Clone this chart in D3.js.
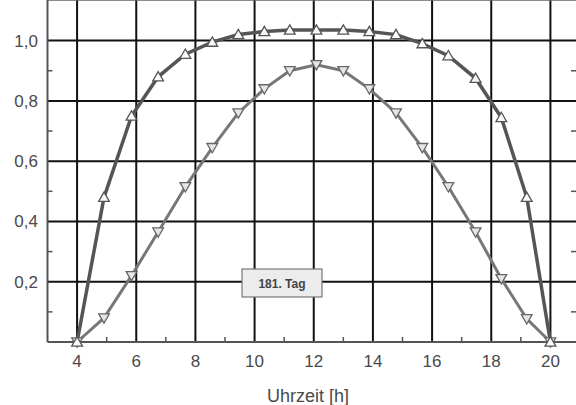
<!DOCTYPE html>
<html>
<head>
<meta charset="utf-8">
<script src="https://cdn.jsdelivr.net/npm/d3@7"></script>
<style>
  body { margin: 0; background: #fff; }
  svg { display: block; }
  text { font-family: "Liberation Sans", Arial, sans-serif; }
</style>
</head>
<body>
<svg width="576" height="405"></svg>
<script>
// Stunden (Uhrzeit) der Messpunkte
var hours = [4, 4.91, 5.84, 6.74, 7.66, 8.57, 9.45, 10.33, 11.19, 12.09,
             13.0, 13.88, 14.78, 15.67, 16.55, 17.47, 18.34, 19.2, 20];
// obere Kurve (Dreieck nach oben)
var upper = [0, 0.48, 0.75, 0.88, 0.955, 0.995, 1.02, 1.03, 1.035, 1.035,
             1.035, 1.03, 1.02, 0.99, 0.95, 0.875, 0.745, 0.48, 0];
// untere Kurve (Dreieck nach unten)
var lower = [0, 0.08, 0.22, 0.365, 0.515, 0.645, 0.76, 0.84, 0.9, 0.92,
             0.9, 0.84, 0.76, 0.645, 0.515, 0.365, 0.21, 0.077, 0];

var xMajor = [4, 6, 8, 10, 12, 14, 16, 18, 20];
var xMinor = [5, 7, 9, 11, 13, 15, 17, 19];
var yMajor = [0.2, 0.4, 0.6, 0.8, 1.0];
var yMinor = [0.1, 0.3, 0.5, 0.7, 0.9];
var yLabels = ["0,2", "0,4", "0,6", "0,8", "1,0"];
var note = "181. Tag";
var xTitle = "Uhrzeit [h]";

var svg = d3.select("svg");

var x = d3.scaleLinear().domain([3, 21]).range([47.5, 580]);
var y = d3.scaleLinear().domain([0, 1.09]).range([342, 13.5]);

var left = x(3), right = x(21), top = y(1.09), bottom = y(0);

// Gitter
svg.append("g").selectAll("line")
  .data(xMajor).enter().append("line")
  .attr("x1", function(d){ return x(d); })
  .attr("x2", function(d){ return x(d); })
  .attr("y1", top).attr("y2", bottom)
  .style("stroke", "#111").style("stroke-width", 2);

svg.append("g").selectAll("line")
  .data(yMajor).enter().append("line")
  .attr("x1", left).attr("x2", right)
  .attr("y1", function(d){ return y(d); })
  .attr("y2", function(d){ return y(d); })
  .style("stroke", "#111").style("stroke-width", 2);

// Rahmen
svg.append("line").attr("x1", left).attr("x2", right).attr("y1", top).attr("y2", top)
  .style("stroke", "#666").style("stroke-width", 1.5);
svg.append("line").attr("x1", left).attr("x2", left).attr("y1", top).attr("y2", bottom)
  .style("stroke", "#555").style("stroke-width", 2);
svg.append("line").attr("x1", left).attr("x2", right).attr("y1", bottom).attr("y2", bottom)
  .style("stroke", "#555").style("stroke-width", 2);

// kleine Striche
var tk = 5;
svg.append("g").selectAll("line").data(xMinor).enter().append("line")
  .attr("x1", function(d){ return x(d); }).attr("x2", function(d){ return x(d); })
  .attr("y1", bottom).attr("y2", bottom - tk)
  .style("stroke", "#555").style("stroke-width", 1.5);
svg.append("g").selectAll("line").data(xMinor).enter().append("line")
  .attr("x1", function(d){ return x(d); }).attr("x2", function(d){ return x(d); })
  .attr("y1", top).attr("y2", top + tk)
  .style("stroke", "#555").style("stroke-width", 1.5);
svg.append("g").selectAll("line").data(yMinor).enter().append("line")
  .attr("x1", left).attr("x2", left + tk)
  .attr("y1", function(d){ return y(d); }).attr("y2", function(d){ return y(d); })
  .style("stroke", "#555").style("stroke-width", 1.5);
svg.append("g").selectAll("line").data(yMinor).enter().append("line")
  .attr("x1", 576).attr("x2", 576 - tk)
  .attr("y1", function(d){ return y(d); }).attr("y2", function(d){ return y(d); })
  .style("stroke", "#555").style("stroke-width", 1.5);

// Achsenbeschriftung
svg.append("g").selectAll("text").data(xMajor).enter().append("text")
  .attr("x", function(d){ return x(d); }).attr("y", 367)
  .attr("text-anchor", "middle")
  .style("font-size", "17px").style("fill", "#4a4a4a")
  .text(function(d){ return d; });

svg.append("g").selectAll("text").data(yMajor).enter().append("text")
  .attr("x", 38).attr("y", function(d){ return y(d) + 6; })
  .attr("text-anchor", "end")
  .style("font-size", "17px").style("fill", "#4a4a4a")
  .text(function(d, i){ return yLabels[i]; });

svg.append("text")
  .attr("x", 308).attr("y", 402)
  .attr("text-anchor", "middle")
  .style("font-size", "18px").style("fill", "#4a4a4a")
  .text(xTitle);

// Kurven
var line = d3.line()
  .x(function(d){ return x(d[0]); })
  .y(function(d){ return y(d[1]); });

var upPts = hours.map(function(h, i){ return [h, upper[i]]; });
var lowPts = hours.map(function(h, i){ return [h, lower[i]]; });

svg.append("path").datum(lowPts).attr("d", line)
  .style("fill", "none").style("stroke", "#777").style("stroke-width", 3);
svg.append("path").datum(upPts).attr("d", line)
  .style("fill", "none").style("stroke", "#555").style("stroke-width", 3.5);

var tri = d3.symbol().type(d3.symbolTriangle).size(50);

svg.append("g").selectAll("path").data(lowPts).enter().append("path")
  .attr("d", tri)
  .attr("transform", function(d){ return "translate(" + x(d[0]) + "," + (y(d[1]) - 1) + ") rotate(180)"; })
  .style("fill", "#e6e6e6").style("stroke", "#666").style("stroke-width", 1.3);

svg.append("g").selectAll("path").data(upPts).enter().append("path")
  .attr("d", tri)
  .attr("transform", function(d){ return "translate(" + x(d[0]) + "," + (y(d[1]) + 1) + ")"; })
  .style("fill", "#fafafa").style("stroke", "#555").style("stroke-width", 1.3);

// Hinweisbox
var bx = 242, by = 269;
svg.append("rect").attr("x", bx).attr("y", by).attr("width", 80).attr("height", 28)
  .style("fill", "#ececec").style("stroke", "#777").style("stroke-width", 1.2);
svg.append("text").attr("x", bx + 40).attr("y", by + 19)
  .attr("text-anchor", "middle")
  .style("font-size", "12px").style("font-weight", "bold").style("fill", "#444")
  .text(note);
</script>
</body>
</html>
